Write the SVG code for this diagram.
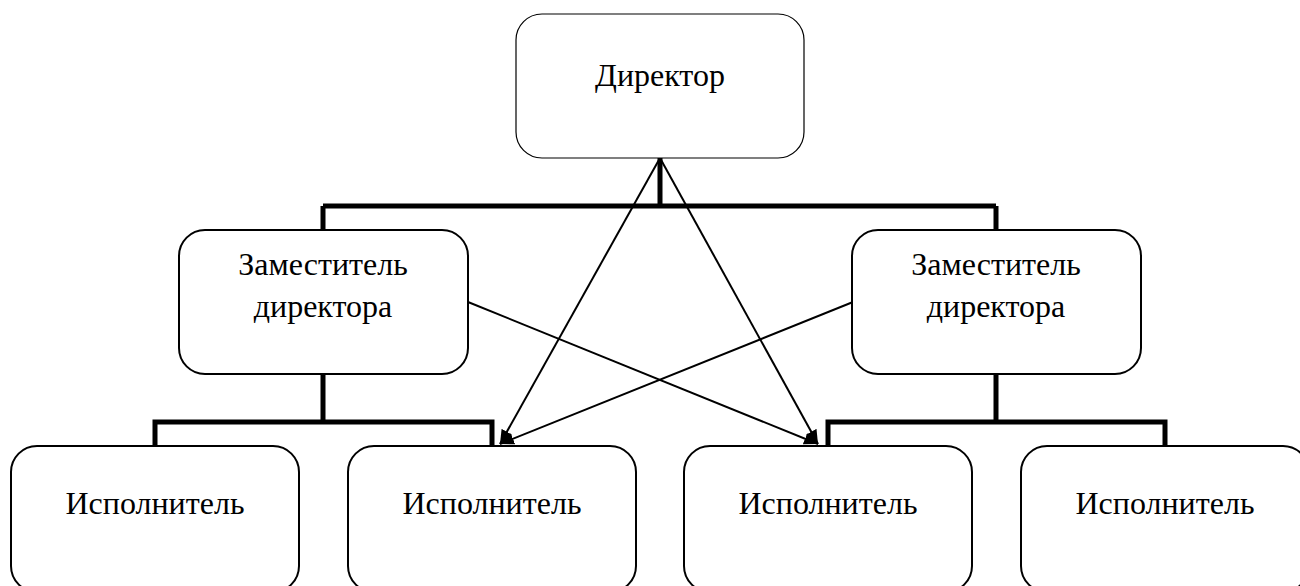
<svg xmlns="http://www.w3.org/2000/svg" width="1300" height="586" viewBox="0 0 1300 586">
<style>
.box{fill:#fff;stroke:#000;stroke-width:2}
.top{stroke-width:1.2}
.lbl{font-family:"Liberation Serif","Times New Roman",serif;font-size:32px;fill:#000;text-anchor:middle}
.thick{fill:none;stroke:#000;stroke-width:5;stroke-linejoin:miter}
.thin{fill:none;stroke:#000;stroke-width:2}
</style>
<defs>
<marker id="arr" markerUnits="userSpaceOnUse" markerWidth="16" markerHeight="12" refX="14" refY="6" orient="auto">
<path d="M0,0 L14,6 L0,12 z" fill="#000"/>
</marker>
</defs>
<rect width="1300" height="586" fill="#fff"/>
<g id="connectors">
<path class="thick" d="M660,158 V206 M323,206 H996 M323,206 V230 M996,206 V230"/>
<path class="thick" d="M323,374 V422 M155,446 V422 H492 V446"/>
<path class="thick" d="M996,374 V422 M828,446 V422 H1165 V446"/>
<line class="thin" x1="660" y1="158" x2="500" y2="444" marker-end="url(#arr)"/>
<line class="thin" x1="660" y1="158" x2="818" y2="444" marker-end="url(#arr)"/>
<line class="thin" x1="468" y1="302" x2="818" y2="444" marker-end="url(#arr)"/>
<line class="thin" x1="853" y1="302" x2="500" y2="444" marker-end="url(#arr)"/>
</g>
<g id="director">
<rect class="box top" x="516" y="14" width="288" height="144" rx="26"/>
<text class="lbl" x="660" y="86">Директор</text>
</g>
<g id="deputy-left">
<rect class="box" x="179" y="230" width="289" height="144" rx="26"/>
<text class="lbl" x="323" y="275">Заместитель</text>
<text class="lbl" x="323" y="317">директора</text>
</g>
<g id="deputy-right">
<rect class="box" x="852" y="230" width="289" height="144" rx="26"/>
<text class="lbl" x="996" y="275">Заместитель</text>
<text class="lbl" x="996" y="317">директора</text>
</g>
<g id="exec1">
<rect class="box" x="11" y="446" width="288" height="146" rx="26"/>
<text class="lbl" x="155" y="514">Исполнитель</text>
</g>
<g id="exec2">
<rect class="box" x="348" y="446" width="288" height="146" rx="26"/>
<text class="lbl" x="492" y="514">Исполнитель</text>
</g>
<g id="exec3">
<rect class="box" x="684" y="446" width="288" height="146" rx="26"/>
<text class="lbl" x="828" y="514">Исполнитель</text>
</g>
<g id="exec4">
<rect class="box" x="1021" y="446" width="288" height="146" rx="26"/>
<text class="lbl" x="1165" y="514">Исполнитель</text>
</g>
</svg>
